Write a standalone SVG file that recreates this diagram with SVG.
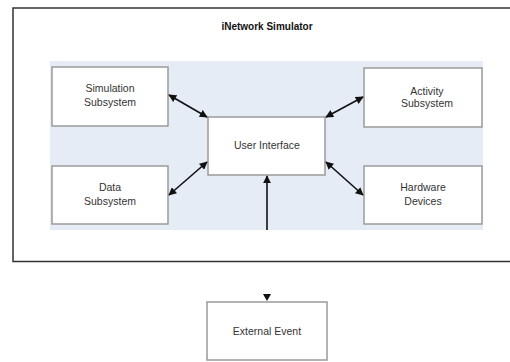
<svg xmlns="http://www.w3.org/2000/svg" width="510" height="362" viewBox="0 0 510 362">
<defs>
<style>
.box{fill:#fff;stroke:#9a9a9a;stroke-width:1.5}
.t{font-family:"Liberation Sans",Arial,sans-serif;font-size:10.5px;fill:#333;text-anchor:middle}
.c{stroke:#111;stroke-width:1.6;fill:none}
</style>
<marker id="ah" viewBox="0 0 10 10" refX="9" refY="5" markerWidth="8.5" markerHeight="8" markerUnits="userSpaceOnUse" orient="auto-start-reverse"><path d="M0,0 L10,5 L0,10 z" fill="#111"/></marker>
</defs>
<rect width="510" height="362" fill="#fff"/>
<g id="frame">
<path d="M510,8 H13 V261.5 H510" fill="none" stroke="#333" stroke-width="1.5"/>
<text x="267" y="30" style="font-family:'Liberation Sans',Arial,sans-serif;font-size:10px;font-weight:bold;fill:#111;text-anchor:middle">iNetwork Simulator</text>
<rect x="50" y="61" width="433" height="169" fill="#e6ecf6"/>
</g>
<g id="sim"><rect class="box" x="52" y="67" width="116" height="59"/><text class="t" x="110" y="92">Simulation</text><text class="t" x="110" y="106">Subsystem</text></g>
<g id="act"><rect class="box" x="364" y="68" width="118" height="59"/><text class="t" x="427" y="95">Activity</text><text class="t" x="427" y="107">Subsystem</text></g>
<g id="ui"><rect class="box" x="208" y="117" width="117" height="58"/><text class="t" x="267" y="149">User Interface</text></g>
<g id="data"><rect class="box" x="52" y="166" width="116" height="58"/><text class="t" x="110" y="191">Data</text><text class="t" x="110" y="205">Subsystem</text></g>
<g id="hw"><rect class="box" x="364" y="166" width="118" height="58"/><text class="t" x="423" y="191">Hardware</text><text class="t" x="423" y="205">Devices</text></g>
<g id="ext"><rect class="box" x="207" y="302" width="120" height="58"/><text class="t" x="267" y="335">External Event</text></g>
<g id="connectors">
<line class="c" x1="169" y1="95" x2="207" y2="117" marker-start="url(#ah)" marker-end="url(#ah)"/>
<line class="c" x1="363" y1="97" x2="326" y2="117" marker-start="url(#ah)" marker-end="url(#ah)"/>
<line class="c" x1="169" y1="195" x2="207" y2="162" marker-start="url(#ah)" marker-end="url(#ah)"/>
<line class="c" x1="326" y1="162" x2="363" y2="195" marker-start="url(#ah)" marker-end="url(#ah)"/>
<line class="c" x1="267" y1="230" x2="267" y2="176" stroke="#333" marker-end="url(#ah)"/>
<path d="M263,294 L271,294 L267,301 z" fill="#111"/>
</g>
</svg>
